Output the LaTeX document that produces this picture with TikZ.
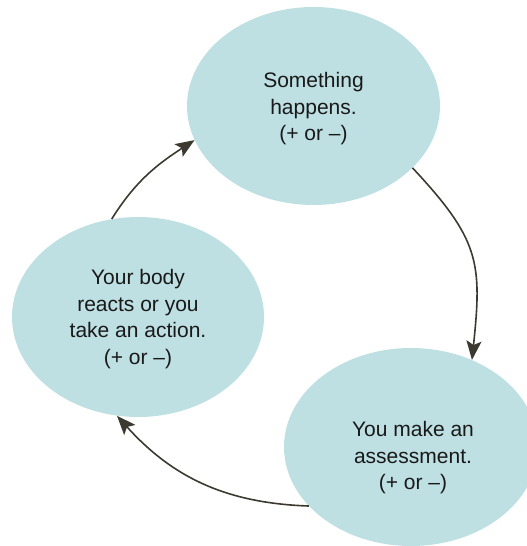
\documentclass[tikz,border=0pt]{standalone}
\usepackage{fontspec}
\setmainfont{Liberation Sans}
\usetikzlibrary{shapes.geometric,arrows.meta}
\definecolor{bubble}{RGB}{190,224,227}
\definecolor{arrowc}{RGB}{60,58,48}
\definecolor{txt}{RGB}{25,25,25}
\tikzset{
  bubble/.style={ellipse, fill=bubble, draw=none, inner sep=0pt},
  lbl/.style={align=center, text=txt, font=\fontsize{21}{26.5}\selectfont, inner sep=0pt},
  link/.style={draw=arrowc, line width=1.6pt, -{Stealth[length=19pt,width=15pt,inset=4pt]}}
}
\begin{document}
\begin{tikzpicture}[x=1pt,y=1pt]
\useasboundingbox (0,0) rectangle (527,546);
\node[bubble, minimum width=253pt, minimum height=198pt] (top) at (313.5,440) {};
\node[bubble, minimum width=252pt, minimum height=200pt] (left) at (138,229) {};
\node[bubble, minimum width=254pt, minimum height=198pt] (br) at (411,99) {};
\node[lbl] (ttop) at (313.5,437) {Something\\happens.\\(+ or –)};
\node[lbl] (tleft) at (138,227) {Your body\\reacts or you\\take an action.\\(+ or –)};
\node[lbl] (tbr) at (413,88) {You make an\\assessment.\\(+ or –)};
\draw[link] (top.-32) to[out=-47,in=84,looseness=1.25] (br.55);
\draw[link] (br.210) to[out=178,in=-48] (left.258);
\draw[link] (left.105) to[out=58,in=213] (top.196);
\end{tikzpicture}
\end{document}
